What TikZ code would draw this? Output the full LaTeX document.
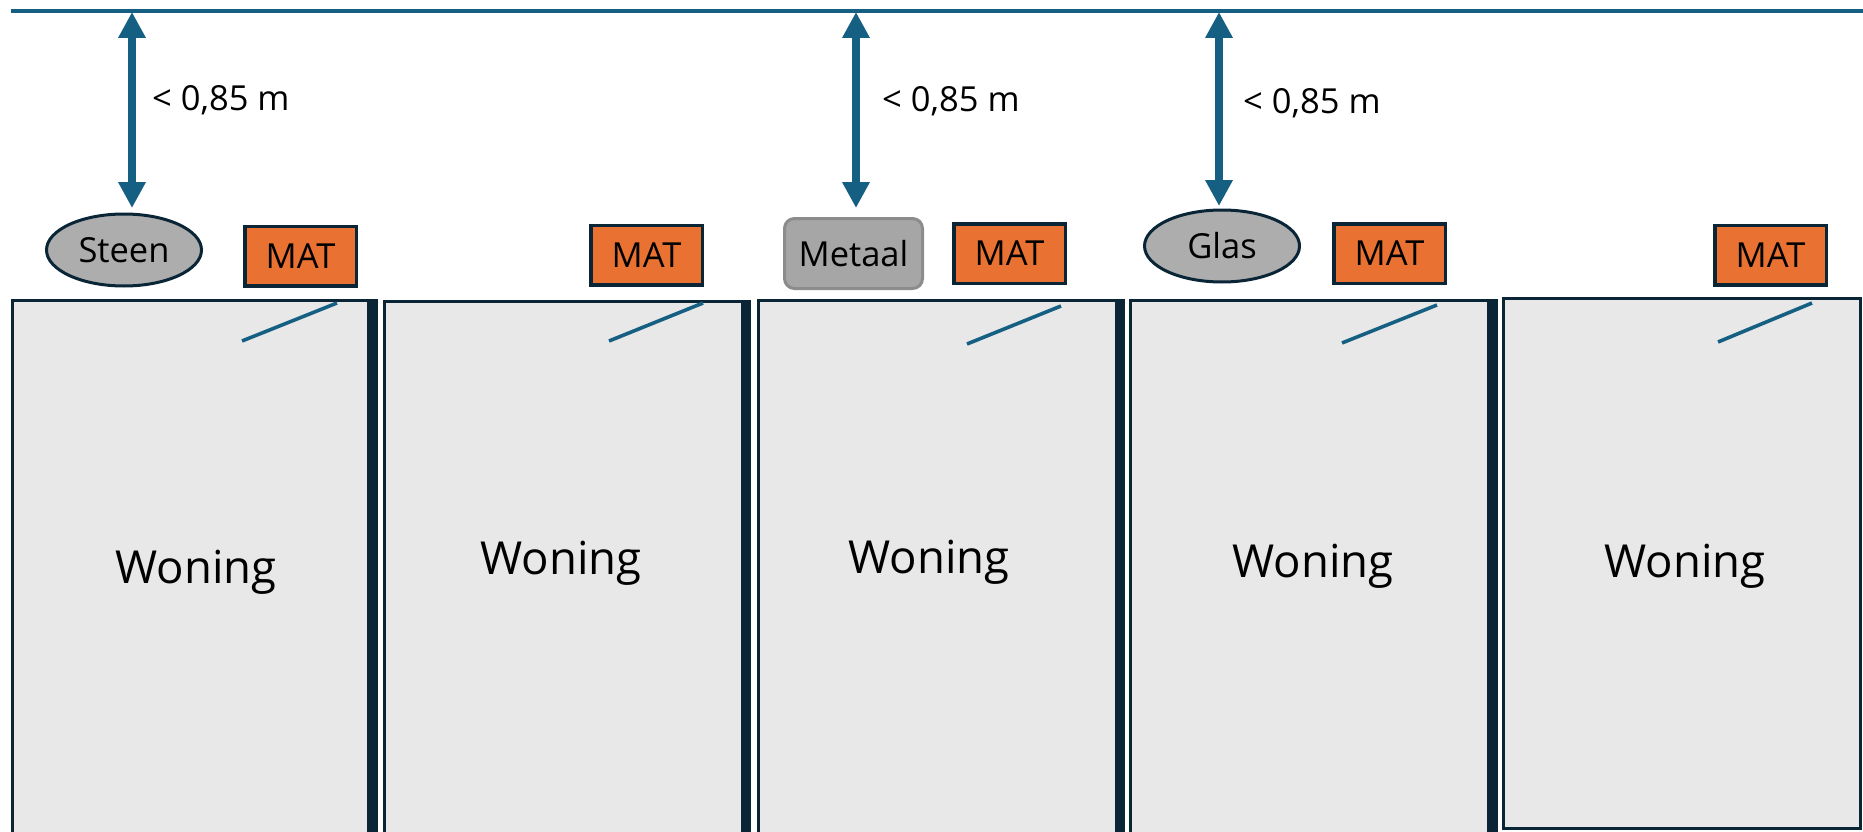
\documentclass[tikz,border=0pt]{standalone}
\usepackage{fontspec}
\setmainfont{Open Sans}
\usetikzlibrary{arrows.meta,shapes.geometric}
\definecolor{blu}{HTML}{156082}
\definecolor{dk}{HTML}{0A2636}
\definecolor{org}{HTML}{E97132}
\definecolor{boxfill}{HTML}{E8E8E8}
\definecolor{gry}{HTML}{ADADAD}
\definecolor{mgry}{HTML}{A6A6A6}
\definecolor{mbrd}{HTML}{8C8C8C}
\begin{document}
\begin{tikzpicture}[x=1pt,y=-1pt,
 house/.style={fill=boxfill,draw=dk,line width=3pt},
 wall/.style={fill=dk,draw=none},
 door/.style={draw=blu,line width=3.6pt},
 woning/.style={inner sep=0pt,font=\fontsize{45.5}{54}\selectfont},
 mat/.style={draw=dk,fill=org,line width=3.5pt,minimum width=111.5pt,minimum height=59.5pt,inner sep=0pt,font=\fontsize{34.5}{40}\selectfont},
 oval/.style={ellipse,draw=dk,fill=gry,line width=3pt,minimum width=155pt,minimum height=72pt,inner sep=0pt,font=\fontsize{34.5}{40}\selectfont},
 rbox/.style={rounded corners=10pt,draw=mbrd,fill=mgry,line width=3pt,minimum width=138pt,minimum height=70pt,inner sep=0pt,font=\fontsize{34.5}{40}\selectfont},
 dim/.style={blu,line width=8pt,{Triangle[width=26pt,length=26pt]}-{Triangle[width=26pt,length=26pt]}},
 lbl/.style={anchor=base west,inner sep=0pt,font=\fontsize{34.5}{40}\selectfont}
]
\useasboundingbox (0,0) rectangle (1863,832);
\fill[white] (0,0) rectangle (1863,832);
\clip (0,0) rectangle (1863,832);

% top line
\coordinate (L0) at (11,11);
\coordinate (L1) at (1863,11);
\draw[blu,line width=3.2pt] (L0) -- (L1);

% houses
\draw[house] (12.5,300.5) rectangle (370,850);
\fill[wall] (367,299) rectangle (378,850);
\draw[house] (384.5,301.5) rectangle (744,850);
\fill[wall] (741,300) rectangle (751,850);
\draw[house] (758.5,300.5) rectangle (1118,850);
\fill[wall] (1115,299) rectangle (1125,850);
\draw[house] (1130.5,300.5) rectangle (1490,850);
\fill[wall] (1487,299) rectangle (1498,850);
\draw[house] (1503.5,298.5) rectangle (1860.5,828.5);

% doors
\draw[door] (242,341) -- (337,303);
\draw[door] (609,341) -- (703,303);
\draw[door] (967,344) -- (1061,306);
\draw[door] (1342,343) -- (1437,305);
\draw[door] (1718,342) -- (1812,303);

% Woning labels
\node[woning] (w1) at (196,572) {Woning};
\node[woning] (w2) at (561,563) {Woning};
\node[woning] (w3) at (929,562) {Woning};
\node[woning] (w4) at (1313,566) {Woning};
\node[woning] (w5) at (1685,566) {Woning};

% objects
\node[oval] (steen) at (124,250) {Steen};
\node[rbox] (metaal) at (853.5,253.5) {Metaal};
\node[oval] (glas) at (1222,246) {Glas};

\node[mat] (m1) at (300.5,256) {MAT};
\node[mat] (m2) at (646.5,255) {MAT};
\node[mat] (m3) at (1009.5,253.5) {MAT};
\node[mat] (m4) at (1389.5,253.5) {MAT};
\node[mat] (m5) at (1770.5,255) {MAT};

% dimension arrows
\coordinate (t1) at (132,12);
\coordinate (b1) at (132,208);
\coordinate (t2) at (856,12);
\coordinate (b2) at (856,208);
\coordinate (t3) at (1219,12);
\coordinate (b3) at (1219,206);
\draw[dim] (t1) -- (b1);
\draw[dim] (t2) -- (b2);
\draw[dim] (t3) -- (b3);

\node[lbl] (d1) at (152,111) {< 0,85 m};
\node[lbl] (d2) at (882,112) {< 0,85 m};
\node[lbl] (d3) at (1243,114) {< 0,85 m};
\end{tikzpicture}
\end{document}
